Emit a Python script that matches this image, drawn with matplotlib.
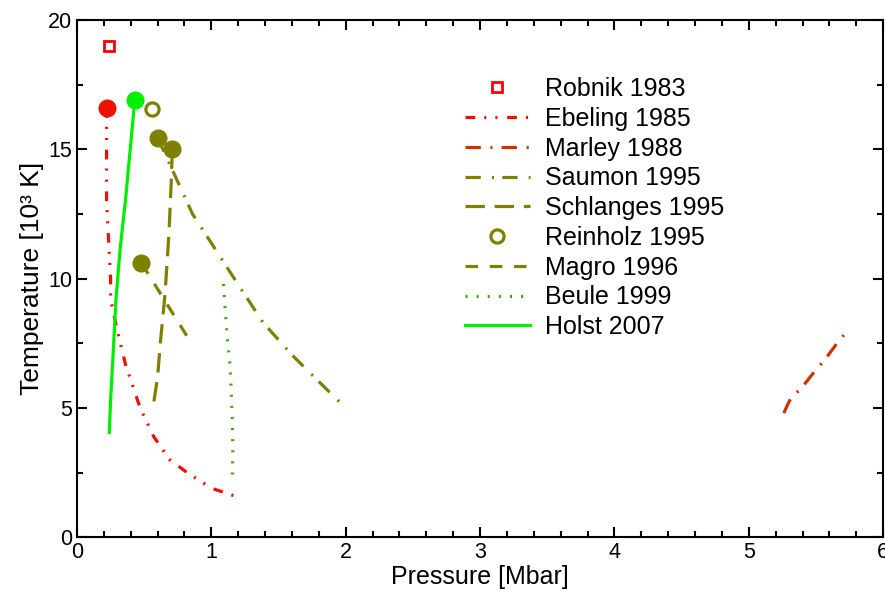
import matplotlib
matplotlib.use('Agg')
import matplotlib.pyplot as plt
from matplotlib.ticker import MultipleLocator

plt.rcParams['font.family'] = ['Liberation Sans', 'DejaVu Sans']
plt.rcParams['lines.scale_dashes'] = False

# data (pressure in Mbar, temperature in 10^3 K)
robnik_p = [0.24]
robnik_t = [19.0]

ebeling_p = [0.22, 0.22, 0.25, 0.25, 0.30, 0.36, 0.47, 0.57, 0.69, 0.82, 1.00, 1.20]
ebeling_t = [16.6, 13.0, 10.0, 9.2, 8.0, 6.7, 5.0, 3.9, 3.0, 2.5, 1.9, 1.55]

marley_p = [5.26, 5.29, 5.32, 5.38, 5.48, 5.57, 5.67, 5.73]
marley_t = [4.8, 5.15, 5.45, 5.7, 6.35, 6.9, 7.6, 7.95]

saumon_p = [0.60, 0.64, 0.86, 1.14, 1.385, 1.61, 1.79, 1.98]
saumon_t = [15.45, 15.0, 12.5, 10.25, 8.3, 7.0, 6.07, 5.1]

schlanges_p = [0.71, 0.70, 0.685, 0.655, 0.62, 0.60, 0.566]
schlanges_t = [15.0, 13.6, 11.8, 9.4, 7.5, 6.2, 5.03]

reinholz_p = [0.56]
reinholz_t = [16.55]

magro_p = [0.48, 0.84]
magro_t = [10.6, 7.6]

beule_p = [1.09, 1.115, 1.14, 1.155, 1.16, 1.155]
beule_t = [9.8, 7.9, 6.6, 4.65, 3.4, 2.1]

holst_p = [0.43, 0.36, 0.32, 0.29, 0.27, 0.25, 0.24]
holst_t = [16.9, 13.0, 11.1, 9.2, 7.2, 5.3, 4.05]

# critical points (filled circles)
crit_p = [0.22, 0.43, 0.60, 0.71, 0.48]
crit_t = [16.6, 16.9, 15.45, 15.0, 10.6]
crit_c = ['#ee1100', '#00ee00', '#7f7f00', '#7f7f00', '#7f7f00']

red = '#ee1100'
orange = '#cc3300'
olive = '#7f7f00'
lgreen = '#44aa11'
green = '#00ee00'

fig = plt.figure(figsize=(8.85, 5.93), dpi=100)
ax = fig.add_axes([0.087, 0.094, 0.911, 0.872])

lw = 2.3
ax.plot(robnik_p, robnik_t, 's', mfc='none', mec='#ff0000', mew=2, ms=7.5,
        label='Robnik 1983')
ax.plot(ebeling_p, ebeling_t, color=red, lw=lw,
        dashes=(7, 6.5, 1.5, 6.5, 1.5, 7), label='Ebeling 1985')
ax.plot(marley_p, marley_t, color=orange, lw=lw, dashes=(11, 7, 1.5, 6.5),
        label='Marley 1988')
ax.plot(saumon_p, saumon_t, color=olive, lw=lw, dashes=(11, 8, 1.5, 6),
        label='Saumon 1995')
ax.plot(schlanges_p, schlanges_t, color=olive, lw=lw, dashes=(14, 7),
        label='Schlanges 1995')
ax.plot(reinholz_p, reinholz_t, 'o', mfc='none', mec=olive, mew=2.3, ms=9.5,
        label='Reinholz 1995')
ax.plot(magro_p, magro_t, color=olive, lw=lw, dashes=(9, 8.5),
        label='Magro 1996')
ax.plot(beule_p, beule_t, color=lgreen, lw=lw, dashes=(1.5, 6.5),
        label='Beule 1999')
ax.plot(holst_p, holst_t, color=green, lw=lw, label='Holst 2007')

for p, t, c in zip(crit_p, crit_t, crit_c):
    ax.plot(p, t, 'o', color=c, ms=12)

ax.set_xlim(0, 6)
ax.set_ylim(0, 20)
ax.xaxis.set_major_locator(MultipleLocator(1))
ax.xaxis.set_minor_locator(MultipleLocator(0.2))
ax.yaxis.set_major_locator(MultipleLocator(5))
ax.yaxis.set_minor_locator(MultipleLocator(2.5))
ax.tick_params(which='both', direction='in', top=True, right=True, width=1.5,
               labelsize=15.5)
ax.tick_params(which='major', length=7.5)
ax.tick_params(which='minor', length=4)
for s in ax.spines.values():
    s.set_linewidth(1.5)

ax.set_xlabel('Pressure [Mbar]', fontsize=18, labelpad=1)
ax.set_ylabel('Temperature [10³ K]', fontsize=19, labelpad=3)

ax.legend(loc='upper left', bbox_to_anchor=(0.481, 0.89), frameon=False,
          fontsize=18, handlelength=2.6, labelspacing=0.23, handletextpad=0.6,
          borderpad=0, borderaxespad=0)

fig.savefig('out.png', dpi=100)
